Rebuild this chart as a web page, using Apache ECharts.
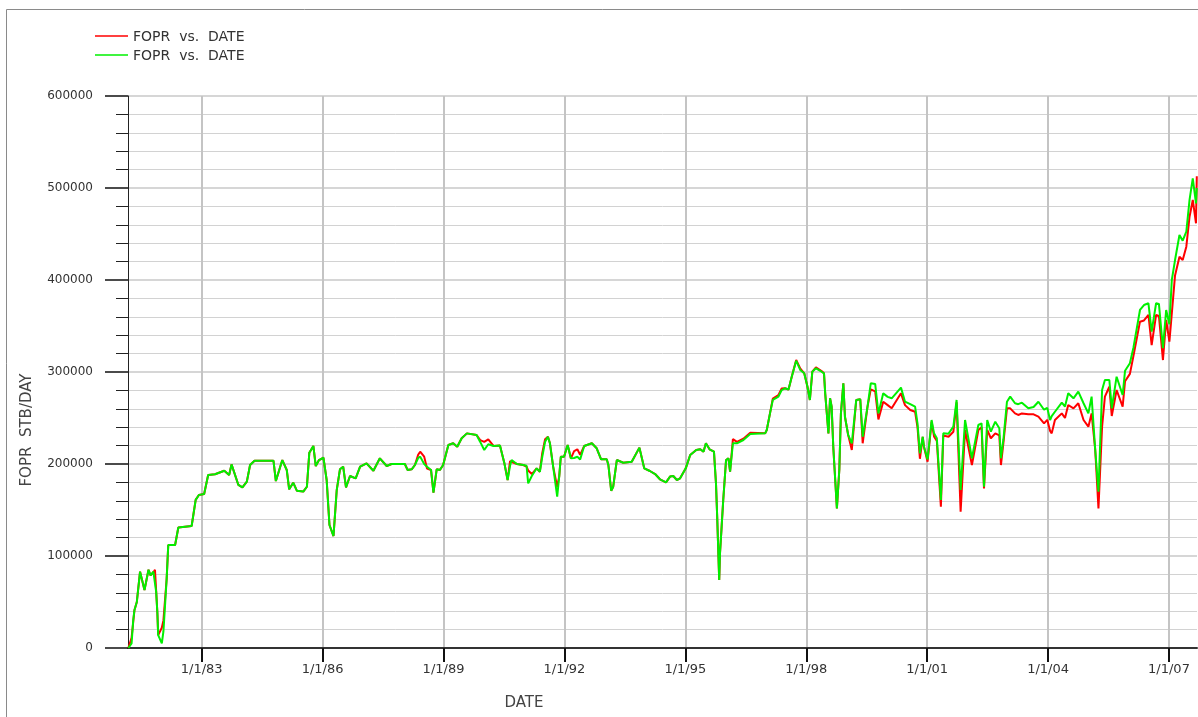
<!DOCTYPE html>
<html>
<head>
<meta charset="utf-8">
<title>FOPR vs. DATE</title>
<script src="https://cdn.jsdelivr.net/npm/echarts@6.0.0/dist/echarts.min.js"></script>
<style>
  html, body { margin: 0; padding: 0; background: #ffffff; }
  #chart { width: 1198px; height: 717px; }
</style>
</head>
<body>
<div id="chart"></div>
<script>
// Field oil production rate, two runs, sampled as decimal years
const dates = [
  1981.18, 1981.26, 1981.30, 1981.33, 1981.39, 1981.47, 1981.58, 1981.68, 1981.73, 1981.80,
  1981.84, 1981.87, 1981.90, 1981.92, 1982.01, 1982.05, 1982.07, 1982.13, 1982.17, 1982.34,
  1982.42, 1982.75, 1982.85, 1982.93, 1983.06, 1983.16, 1983.33, 1983.56, 1983.68, 1983.74,
  1983.91, 1984.01, 1984.12, 1984.20, 1984.31, 1984.78, 1984.84, 1985.00, 1985.11, 1985.17,
  1985.27, 1985.36, 1985.52, 1985.61, 1985.67, 1985.77, 1985.83, 1985.91, 1986.02, 1986.10,
  1986.17, 1986.27, 1986.35, 1986.43, 1986.51, 1986.58, 1986.68, 1986.82, 1986.93, 1987.09,
  1987.26, 1987.42, 1987.59, 1987.71, 1988.04, 1988.11, 1988.21, 1988.29, 1988.37, 1988.42,
  1988.52, 1988.59, 1988.69, 1988.75, 1988.83, 1988.91, 1988.99, 1989.12, 1989.24, 1989.34,
  1989.45, 1989.58, 1989.82, 1989.91, 1990.01, 1990.11, 1990.24, 1990.40, 1990.51, 1990.59,
  1990.65, 1990.69, 1990.82, 1990.98, 1991.06, 1991.10, 1991.19, 1991.31, 1991.39, 1991.45,
  1991.52, 1991.59, 1991.64, 1991.72, 1991.82, 1991.87, 1991.91, 1991.99, 1992.08, 1992.16,
  1992.24, 1992.32, 1992.39, 1992.49, 1992.68, 1992.80, 1992.91, 1993.05, 1993.09, 1993.16,
  1993.21, 1993.30, 1993.46, 1993.67, 1993.86, 1993.98, 1994.12, 1994.25, 1994.37, 1994.52,
  1994.62, 1994.70, 1994.79, 1994.87, 1995.01, 1995.12, 1995.27, 1995.37, 1995.45, 1995.51,
  1995.60, 1995.71, 1995.76, 1995.79, 1995.84, 1995.86, 1995.90, 1995.94, 1996.01, 1996.07,
  1996.11, 1996.18, 1996.28, 1996.44, 1996.61, 1996.98, 1997.02, 1997.10, 1997.17, 1997.31,
  1997.39, 1997.47, 1997.56, 1997.64, 1997.75, 1997.85, 1997.95, 1998.03, 1998.09, 1998.15,
  1998.24, 1998.38, 1998.44, 1998.47, 1998.51, 1998.55, 1998.59, 1998.63, 1998.67, 1998.76,
  1998.82, 1998.86, 1998.92, 1998.96, 1999.04, 1999.13, 1999.24, 1999.34, 1999.40, 1999.52,
  1999.60, 1999.71, 1999.79, 1999.91, 2000.02, 2000.12, 2000.35, 2000.45, 2000.58, 2000.70,
  2000.76, 2000.82, 2000.89, 2000.92, 2001.01, 2001.11, 2001.17, 2001.24, 2001.34, 2001.40,
  2001.53, 2001.65, 2001.73, 2001.83, 2001.94, 2002.11, 2002.27, 2002.35, 2002.41, 2002.49,
  2002.58, 2002.69, 2002.79, 2002.83, 2002.89, 2002.98, 2003.06, 2003.18, 2003.26, 2003.35,
  2003.51, 2003.64, 2003.76, 2003.90, 2003.98, 2004.05, 2004.09, 2004.17, 2004.34, 2004.42,
  2004.50, 2004.63, 2004.75, 2004.88, 2005.00, 2005.08, 2005.17, 2005.25, 2005.34, 2005.41,
  2005.52, 2005.58, 2005.70, 2005.85, 2005.91, 2006.03, 2006.12, 2006.28, 2006.38, 2006.49,
  2006.57, 2006.68, 2006.75, 2006.85, 2006.93, 2007.01, 2007.07, 2007.15, 2007.26, 2007.34,
  2007.43, 2007.51, 2007.59, 2007.67, 2007.69
];

// FOPR, STB/DAY (red curve)
const foprRed = [
  0, 11000, 28000, 41000, 50000, 83000, 63000, 85000, 79000, 82000,
  85000, 62000, 38000, 14000, 22000, 30000, 32000, 75000, 112000, 112000,
  131000, 132600, 161000, 166300, 167400, 188000, 188800, 192700, 188000, 199600,
  177200, 174600, 180800, 198900, 203600, 203600, 181500, 204300, 193500, 172500,
  179700, 171000, 170000, 175300, 212300, 219600, 197800, 204300, 206800, 182600,
  133700, 121700, 171700, 194200, 197100, 174600, 187000, 184400, 197100, 200700,
  192700, 206200, 197800, 200000, 200000, 193500, 194200, 198900, 210000, 213400,
  208000, 195000, 193500, 168800, 194200, 193500, 198900, 220700, 222500, 218800,
  228000, 233300, 231500, 226000, 224000, 226800, 219600, 220000, 200700, 182600,
  203000, 204300, 200000, 198900, 197100, 193000, 189100, 195300, 191600, 212000,
  227000, 229600, 222500, 197100, 175000, 186300, 207900, 207900, 220700, 206200,
  214000, 216000, 210000, 219600, 222500, 217100, 205100, 205100, 198900, 171000,
  175300, 204300, 201400, 202500, 217800, 195300, 192400, 189100, 183400, 180100,
  186300, 187000, 182600, 184400, 195300, 209800, 215200, 216000, 213400, 222500,
  216000, 213400, 179000, 142700, 73900, 103000, 131800, 160900, 204300, 206200,
  191600, 227000, 224000, 227500, 234000, 233300, 237000, 255000, 271000, 275000,
  282000, 282300, 281000, 294900, 313000, 304000, 298600, 284000, 269600, 300300,
  305000, 301000, 298600, 276800, 255000, 233300, 271400, 262300, 218800, 151800,
  193500, 255000, 287700, 251400, 231500, 215200, 269600, 270300, 222500, 262300,
  281100, 279000, 248500, 267700, 264000, 260500, 276800, 264000, 258700, 256800,
  240000, 205700, 229600, 218800, 202500, 246000, 230000, 225000, 153600, 231000,
  229600, 235000, 267000, 148200, 237000, 198900, 237000, 240000, 173500, 237000,
  228000, 233300, 231000, 198900, 222000, 260500, 260500, 255000, 253300, 255000,
  254000, 254000, 251400, 244200, 248000, 236000, 233300, 247800, 255000, 250000,
  264100, 260500, 266000, 247800, 240600, 255000, 215200, 151800, 240600, 273200,
  284000, 252200, 280400, 262300, 290000, 298000, 318000, 354700, 356000, 362000,
  329300, 362000, 361000, 313000, 356500, 333000, 363800, 405000, 425300, 421700,
  436200, 468800, 487000, 461600, 512700
];

// FOPR, STB/DAY (green curve)
const foprGreen = [
  0, 5000, 30000, 41000, 50000, 83000, 63000, 85000, 79000, 83000,
  85000, 61000, 38000, 14000, 5000, 18000, 32000, 75000, 112000, 112000,
  131000, 132600, 161000, 166300, 167400, 188000, 188800, 192700, 188000, 199600,
  177200, 174600, 180800, 198900, 203600, 203600, 181500, 204300, 193500, 172500,
  179700, 171000, 170000, 175300, 212300, 219600, 197800, 204300, 206800, 182600,
  133700, 121700, 171700, 194200, 197100, 174600, 187000, 184400, 197100, 200700,
  192700, 206200, 197800, 200000, 200000, 193500, 194200, 198900, 206500, 208000,
  200000, 197100, 193500, 168800, 194200, 193500, 198900, 220700, 222500, 218800,
  228000, 233300, 231500, 224000, 215200, 221500, 219600, 220000, 200700, 182600,
  198000, 204300, 200000, 198900, 198000, 179000, 187000, 195300, 191600, 207900,
  224200, 229600, 222500, 197100, 164500, 186300, 207900, 207900, 220700, 206200,
  206500, 207900, 205000, 219600, 222500, 217100, 205100, 205100, 198900, 171000,
  175300, 204300, 201400, 202500, 217800, 195300, 192400, 189100, 183400, 180100,
  186300, 187000, 182600, 184400, 195300, 209800, 215200, 216000, 213400, 222500,
  216000, 213400, 179000, 142700, 73900, 103000, 131800, 160900, 204300, 206200,
  191600, 222500, 222500, 226100, 232600, 233300, 237000, 255000, 269600, 273200,
  280400, 282300, 281000, 294900, 312300, 302200, 298600, 284000, 269600, 300300,
  304000, 300300, 298600, 276800, 255000, 233300, 271400, 262300, 218800, 151800,
  193500, 255000, 287700, 251400, 231500, 222500, 269600, 270300, 229600, 262300,
  287700, 287000, 255000, 276800, 273000, 271400, 283000, 267700, 265000, 262300,
  244200, 211600, 229600, 218800, 205000, 247800, 233300, 228000, 160900, 233300,
  233000, 240600, 269600, 171700, 247800, 206200, 242400, 244200, 175300, 247800,
  235100, 246000, 238800, 206200, 226100, 267700, 273200, 266000, 265000, 266700,
  260500, 262000, 267700, 259000, 261000, 247800, 252000, 256800, 266700, 262500,
  276800, 271400, 278700, 266000, 255000, 273200, 215200, 170000, 280400, 291300,
  291300, 260500, 294900, 275000, 301400, 309500, 327000, 367400, 372800, 374700,
  343800, 374700, 374000, 325800, 367400, 352000, 400000, 421700, 448900, 442700,
  452500, 487000, 510500, 483300, 500000
];

// Tick positions (1 January of every third year) and the value range
const yearTicks = [1983, 1986, 1989, 1992, 1995, 1998, 2001, 2004, 2007];
const xRange = [1981.171, 2007.695];
const yRange = [0, 600000];

const seriesName = 'FOPR  vs.  DATE';
const xTitle = 'DATE';
const yTitle = 'FOPR  STB/DAY';

const RED = '#ff0000';
const GREEN = '#00f000';
const TEXT = '#333333';
const FONT = "'DejaVu Sans', 'Liberation Sans', sans-serif";

const chart = echarts.init(document.getElementById('chart'), null, { renderer: 'canvas' });

const pairs = vals => dates.map((d, i) => [d, vals[i]]);

chart.setOption({
  animation: false,
  backgroundColor: '#ffffff',
  grid: {
    left: 128, top: 96, right: 1, bottom: 69,
    containLabel: false,
    outerBoundsMode: 'none'
  },
  xAxis: {
    type: 'value',
    min: xRange[0],
    max: xRange[1],
    axisLine: { show: true, onZero: false, lineStyle: { color: '#333333', width: 2 } },
    axisTick: {
      show: true, customValues: yearTicks, length: 14, inside: false,
      lineStyle: { color: '#111111', width: 2 }
    },
    axisLabel: {
      show: true, customValues: yearTicks, margin: 15,
      color: TEXT, fontFamily: FONT, fontSize: 13,
      formatter: v => '1/1/' + String(Math.round(v) % 100).padStart(2, '0')
    },
    splitLine: { show: true, lineStyle: { color: '#c4c4c4', width: 2 } },
    minorTick: { show: false },
    minorSplitLine: { show: false }
  },
  yAxis: {
    type: 'value',
    min: yRange[0],
    max: yRange[1],
    interval: 100000,
    axisLine: { show: true, lineStyle: { color: '#222222', width: 1 } },
    axisTick: { show: true, length: 23, inside: false, lineStyle: { color: '#111111', width: 1.5 } },
    minorTick: { show: true, splitNumber: 5, length: 12, lineStyle: { color: '#222222', width: 1 } },
    axisLabel: {
      margin: 35, color: TEXT, fontFamily: FONT, fontSize: 12,
      formatter: v => String(Math.round(v))
    },
    splitLine: { show: true, lineStyle: { color: '#c8c8c8', width: 1.5 } },
    minorSplitLine: { show: true, lineStyle: { color: '#d2d2d2', width: 1 } }
  },
  series: [
    {
      name: seriesName + ' (1)',
      type: 'line',
      data: pairs(foprRed),
      showSymbol: false,
      symbol: 'none',
      lineStyle: { color: RED, width: 2 },
      itemStyle: { color: RED },
      z: 3
    },
    {
      name: seriesName + ' (2)',
      type: 'line',
      data: pairs(foprGreen),
      showSymbol: false,
      symbol: 'none',
      lineStyle: { color: GREEN, width: 2 },
      itemStyle: { color: GREEN },
      z: 4
    }
  ],
  graphic: [
    // outer frame
    {
      type: 'rect', silent: true, z: 0,
      shape: { x: 6.5, y: 9.5, width: 1220, height: 740 },
      style: { fill: null, stroke: '#8a8a8a', lineWidth: 1 }
    },
    // legend
    {
      type: 'line', silent: true,
      shape: { x1: 95, y1: 36, x2: 128, y2: 36 },
      style: { stroke: RED, lineWidth: 1.5 }
    },
    {
      type: 'text', silent: true, x: 133, y: 37,
      style: { text: seriesName, fill: TEXT, font: '14px ' + FONT, textVerticalAlign: 'middle' }
    },
    {
      type: 'line', silent: true,
      shape: { x1: 95, y1: 55, x2: 128, y2: 55 },
      style: { stroke: GREEN, lineWidth: 1.5 }
    },
    {
      type: 'text', silent: true, x: 133, y: 56,
      style: { text: seriesName, fill: TEXT, font: '14px ' + FONT, textVerticalAlign: 'middle' }
    },
    // axis titles
    {
      type: 'text', silent: true, x: 524, y: 703,
      style: { text: xTitle, fill: '#444444', font: '15px ' + FONT, textAlign: 'center', textVerticalAlign: 'middle' }
    },
    {
      type: 'text', silent: true, x: 27, y: 430, rotation: Math.PI / 2,
      style: { text: yTitle, fill: '#444444', font: '15px ' + FONT, textAlign: 'center', textVerticalAlign: 'middle' }
    }
  ]
});
</script>
</body>
</html>
